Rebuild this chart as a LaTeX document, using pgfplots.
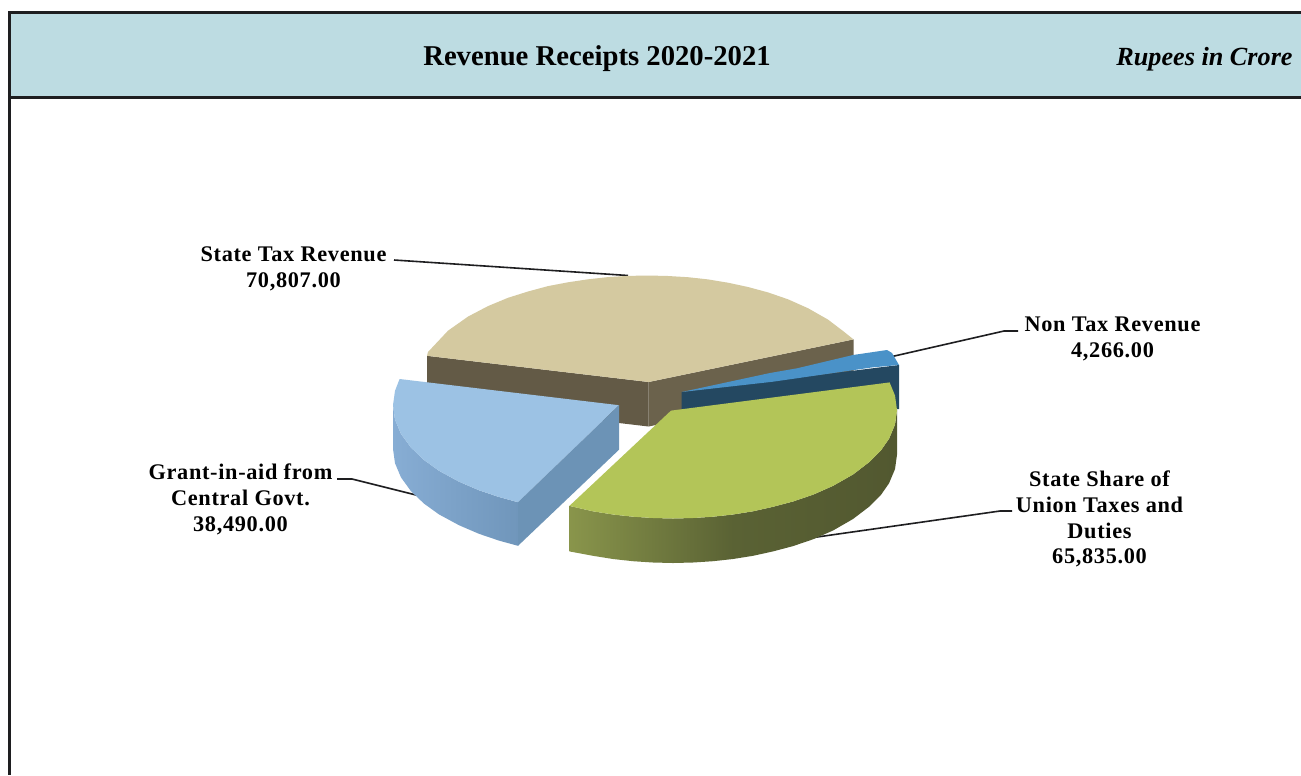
\documentclass[border=0pt]{standalone}
\usepackage{pgfplots}
\pgfplotsset{compat=1.18}
\usepackage{fontspec}
\setmainfont{Liberation Serif}
\newfontfamily\lab[LetterSpace=3,Ligatures=NoCommon]{Liberation Serif}
\definecolor{hdr}{RGB}{189,220,226}
\definecolor{ink}{RGB}{30,30,32}
\definecolor{beigetop}{RGB}{212,201,160}
\definecolor{beigeL}{RGB}{99,90,70}
\definecolor{beigeR}{RGB}{107,98,76}
\definecolor{nontop}{RGB}{74,146,200}
\definecolor{nonwall}{RGB}{36,72,97}
\definecolor{greentop}{RGB}{179,197,88}
\definecolor{bluetop}{RGB}{156,194,228}
\definecolor{blueside}{RGB}{108,147,182}
\definecolor{gw1}{RGB}{137,149,75}
\definecolor{gw2}{RGB}{90,98,52}
\definecolor{gw3}{RGB}{82,88,48}
\definecolor{bw1}{RGB}{135,173,212}
\definecolor{bw2}{RGB}{112,150,187}
\pgfdeclarehorizontalshading{greenwall}{100bp}{
 color(0bp)=(gw1); color(25bp)=(gw1); color(50bp)=(gw2); color(75bp)=(gw3); color(100bp)=(gw3)}
\pgfdeclarehorizontalshading{bluewall}{100bp}{
 color(0bp)=(bw1); color(25bp)=(bw1); color(75bp)=(bw2); color(100bp)=(bw2)}
\begin{document}
\begin{tikzpicture}[lblstyle/.style={inner sep=0pt,align=center,font=\fontsize{22.4}{26}\selectfont\bfseries\lab}]
\begin{axis}[
  scale only axis, width=1301bp, height=775bp,
  xmin=0, xmax=1301, ymin=0, ymax=775, y dir=reverse,
  hide axis, clip=true, axis on top=false,
  every axis plot/.append style={no markers}
]
% background and frame
\addplot[fill=white,draw=none] coordinates {(0,0)(1301,0)(1301,775)(0,775)} --cycle;
\addplot[fill=hdr,draw=none] coordinates {(9.5,12.5)(1301,12.5)(1301,97.5)(9.5,97.5)} --cycle;
\addplot[ink,line width=3bp] coordinates {(1301,12.5)(9.5,12.5)(9.5,775)};
\addplot[ink,line width=3bp] coordinates {(9.5,97.5)(1301,97.5)};
% leader lines
\addplot[ink,line width=1.6bp] coordinates {(394,260)(628,275.5)};
\addplot[ink,line width=1.6bp] coordinates {(890,357)(1004,331)(1018,331)};
\addplot[ink,line width=1.6bp] coordinates {(337,479)(352,479)(416,495)};
\addplot[ink,line width=1.6bp] coordinates {(810,538)(1000,511)(1012,511)};
% State Tax Revenue: walls then top
\addplot[fill=beigeL,draw=none] coordinates {(427,355.8)(648.6,382)(648.6,426.5)(427,400.4)} --cycle;
\addplot[fill=beigeR,draw=none] coordinates {(648.6,382)(853.5,339.4)(853.5,384)(648.6,426.5)} --cycle;
\addplot[fill=beigetop,draw=none] coordinates {
 (427,355.8)(428,352)(448,330.7)(468,316.6)(488,306.1)(508,297.8)(528,291.5)(548,286.1)(568,282.3)(588,279.3)(608,277.1)(628,275.9)(648,275.5)
 (668,276)(688,277.2)(708,279.4)(728,282.7)(748,287)(768,292.4)(788,299.3)(808,308.2)(828,319.6)(843,331)(853.5,339.4)
 (648.6,382)} --cycle;
% Non Tax Revenue
\addplot[fill=nonwall,draw=none] coordinates {(681.7,392)(899,365)(899,409)(681.7,436)} --cycle;
\addplot[fill=nontop,draw=none] coordinates {(681.7,392)(770,373)(797,368.3)(853,355)(887,350)(892,353)(899,365)(873,367.3)(773,381.7)} --cycle;
% State Share of Union Taxes and Duties
\addplot[draw=none,shading=greenwall] coordinates {
 (569.4,505.9)(593,511.3)(613,514.5)(633,516.7)(653,518)(673,518.5)(693,518)(713,516.7)(733,514.5)(753,511.3)(773,506.8)(793,501.5)(813,494.7)(833,485.9)(853,474.5)(869,462.3)(881,450.3)(889,438.8)(895,424.6)(897,410)
 (897,454.6)(895,469.1)(889,483.3)(881,494.8)(869,506.8)(853,519)(833,530.5)(813,539.3)(793,546.1)(773,551.4)(753,555.8)(733,559)(713,561.2)(693,562.5)(673,563)(653,562.5)(633,561.2)(613,559)(593,555.8)(569.4,551.4)} --cycle;
\addplot[fill=greentop,draw=none] coordinates {
 (569.4,505.9)(671,410.6)(889.6,382.4)(895,395.5)(897,410)(895,424.6)(889,438.8)(881,450.3)(869,462.3)(853,474.5)(833,485.9)(813,494.7)(793,501.5)(773,506.8)(753,511.3)(733,514.5)(713,516.7)(693,518)(673,518.5)(653,518)(633,516.7)(613,514.5)(593,511.3)} --cycle;
% Grant-in-aid from Central Govt.
\addplot[draw=none,shading=bluewall] coordinates {
 (393,405.2)(395,419.6)(401,433.9)(411,447.6)(424,460)(439,470.8)(459,481.7)(479,490.3)(499,497)(518,502.2)
 (518,545.8)(499,540.6)(479,533.8)(459,525.2)(439,514.4)(424,503.6)(411,491.2)(401,477.4)(395,463.2)(393,448.8)} --cycle;
\addplot[fill=bluetop,draw=none] coordinates {
 (399.6,379)(619,405.2)(518,502.2)(499,497)(479,490.3)(459,481.7)(439,470.8)(424,460)(411,447.6)(401,433.9)(395,419.6)(393,405.2)(395,390.8)} --cycle;
\addplot[fill=blueside,draw=none] coordinates {(619,405.2)(619,449.7)(518,545.8)(518,502.2)} --cycle;
% text
\node[inner sep=0pt] at (axis cs:597,59) {\fontsize{28.8}{32}\selectfont\bfseries Revenue Receipts 2020-2021};
\node[inner sep=0pt] at (axis cs:1204.5,59) {\fontsize{26.3}{30}\selectfont\bfseries\itshape Rupees in Crore};
\node[lblstyle] at (axis cs:293.5,268.5) {State Tax Revenue\\70,807.00};
\node[lblstyle] at (axis cs:1112.5,338.5) {Non Tax Revenue\\4,266.00};
\node[lblstyle] at (axis cs:240.5,499) {Grant-in-aid from\\Central Govt.\\38,490.00};
\node[lblstyle] at (axis cs:1099.5,519) {State Share of\\Union Taxes and\\Duties\\65,835.00};
\end{axis}
\end{tikzpicture}
\end{document}
